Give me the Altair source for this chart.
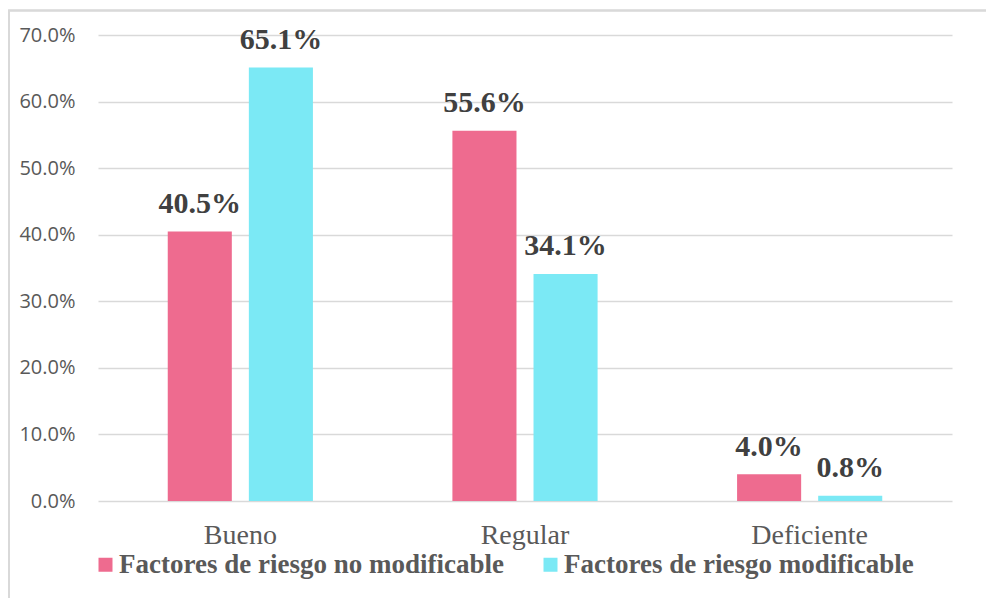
import altair as alt
import pandas as pd

categories = ["Bueno", "Regular", "Deficiente"]
series = ["Factores de riesgo no modificable", "Factores de riesgo modificable"]
no_modificable = [0.405, 0.556, 0.040]
modificable = [0.651, 0.341, 0.008]
y_ticks = [0.0, 0.1, 0.2, 0.3, 0.4, 0.5, 0.6, 0.7]
colors = ["#EE6B8F", "#7BE9F5"]

rows = []
for c, a, b in zip(categories, no_modificable, modificable):
    rows.append({"cat": c, "serie": series[0], "val": a})
    rows.append({"cat": c, "serie": series[1], "val": b})
df = pd.DataFrame(rows)

W, H = 854, 466

x = alt.X("cat:N", sort=categories, title=None,
          scale=alt.Scale(paddingInner=0.49, paddingOuter=0.245),
          axis=alt.Axis(labelAngle=0, ticks=False, domain=False, labelPadding=20,
                        labelFont="Liberation Serif", labelFontSize=28,
                        labelColor="#595959"))
xo = alt.XOffset("serie:N", sort=series,
                 scale=alt.Scale(paddingInner=0.21, paddingOuter=0))
y = alt.Y("val:Q", title=None,
          scale=alt.Scale(domain=[0, 0.7], nice=False),
          axis=alt.Axis(values=y_ticks, format=".1%", ticks=False, domain=False,
                        labelPadding=23, labelFont="Open Sans", labelFontSize=20,
                        labelColor="#595959", gridColor="#D9D9D9", gridWidth=1.3))
color = alt.Color("serie:N", sort=series,
                  scale=alt.Scale(domain=series, range=colors),
                  legend=alt.Legend(title=None, orient="none", direction="horizontal",
                                    legendX=-6, legendY=516, padding=0,
                                    symbolType="square", symbolSize=196,
                                    symbolStrokeWidth=0, symbolOpacity=1,
                                    labelFont="Liberation Serif", labelFontWeight="bold",
                                    labelFontSize=27, labelColor="#595959",
                                    labelOffset=0, columnPadding=33, labelLimit=600))

bars = alt.Chart(df).mark_bar().encode(x=x, xOffset=xo, y=y, color=color)

labels = alt.Chart(df).mark_text(
    font="Liberation Serif", fontWeight="bold", fontSize=30, color="#404040",
    baseline="alphabetic", dy=-18.5
).encode(x=alt.X("cat:N", sort=categories), xOffset=alt.XOffset("serie:N", sort=series),
         y="val:Q", text=alt.Text("val:Q", format=".1%"))

border = alt.Chart(df).mark_rect(fill=None, stroke="#D9D9D9", strokeWidth=1.5).encode(
    x=alt.value(-89), x2=alt.value(W + 200), y=alt.value(-24.5), y2=alt.value(H + 200)
)

chart = alt.layer(border, bars, labels).properties(
    width=W, height=H,
    autosize=alt.AutoSizeParams(type="none"),
    padding={"left": 98, "top": 35, "right": 34, "bottom": 97},
).configure(background="white").configure_view(stroke=None)

chart.save("out.html", embed_options={"renderer": "svg", "actions": False})
